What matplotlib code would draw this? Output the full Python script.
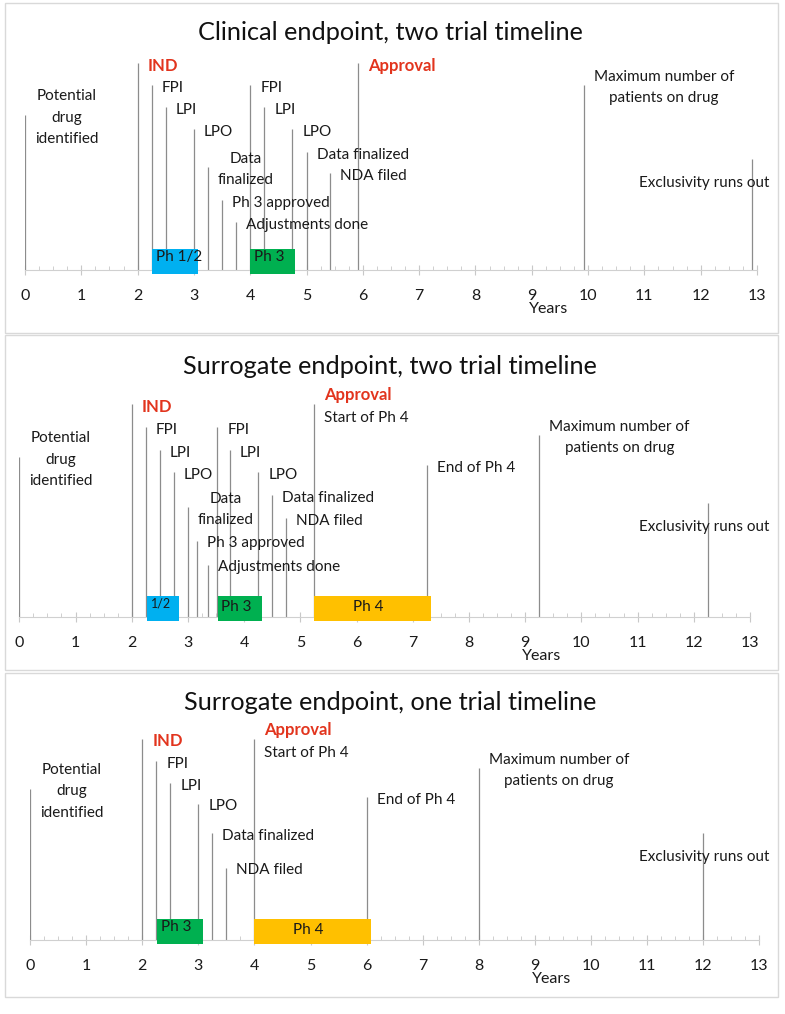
import matplotlib.pyplot as plt
import matplotlib.transforms as mtransforms
from matplotlib.patches import Rectangle

plt.rcParams['font.family'] = ['Lato', 'DejaVu Sans']

W, H = 785, 1014

# ---- panel 1: clinical endpoint, two trials
p1_title = "Clinical endpoint, two trial timeline"
p1_labels = ["Potential\ndrug\nidentified", "IND", "FPI", "LPI", "LPO", "Data\nfinalized",
             "Ph 3 approved", "Adjustments done", "FPI", "LPI", "LPO", "Data finalized",
             "NDA filed", "Approval", "Maximum number of\npatients on drug", "Exclusivity runs out"]
p1_years = [0, 2, 2.25, 2.5, 3, 3.25, 3.5, 3.75, 4, 4.25, 4.75, 5, 5.42, 5.92, 9.92, 12.92]
p1_heights = [155, 207, 185, 163, 141, 103, 70, 48, 185, 163, 141, 118, 97, 207, 185, 111]
p1_bar_names = ["Ph 1/2", "Ph 3"]
p1_bar_start = [2.25, 4.0]
p1_bar_end = [3.08, 4.8]

# ---- panel 2: surrogate endpoint, two trials
p2_title = "Surrogate endpoint, two trial timeline"
p2_labels = ["Potential\ndrug\nidentified", "IND", "FPI", "LPI", "LPO", "Data\nfinalized",
             "Ph 3 approved", "Adjustments done", "FPI", "LPI", "LPO", "Data finalized",
             "NDA filed", "Approval\nStart of Ph 4", "End of Ph 4",
             "Maximum number of\npatients on drug", "Exclusivity runs out"]
p2_years = [0, 2, 2.25, 2.5, 2.75, 3, 3.17, 3.35, 3.52, 3.75, 4.25, 4.5, 4.75, 5.25, 7.25, 9.25, 12.25]
p2_heights = [160, 213, 190, 167, 145, 110, 76, 52, 190, 167, 145, 122, 99, 213, 152, 182, 114]
p2_bar_names = ["1/2", "Ph 3", "Ph 4"]
p2_bar_start = [2.27, 3.54, 5.25]
p2_bar_end = [2.84, 4.32, 7.32]

# ---- panel 3: surrogate endpoint, one trial
p3_title = "Surrogate endpoint, one trial timeline"
p3_labels = ["Potential\ndrug\nidentified", "IND", "FPI", "LPI", "LPO", "Data finalized",
             "NDA filed", "Approval\nStart of Ph 4", "End of Ph 4",
             "Maximum number of\npatients on drug", "Exclusivity runs out"]
p3_years = [0, 2, 2.25, 2.5, 3, 3.25, 3.5, 4, 6, 8, 12]
p3_heights = [151, 201, 179, 157, 136, 107, 72, 201, 143, 172, 107]
p3_bar_names = ["Ph 3", "Ph 4"]
p3_bar_start = [2.27, 4.0]
p3_bar_end = [3.09, 6.07]

years_ticks = list(range(14))

phase_colors = {"Ph 1/2": "#00b0f0", "1/2": "#00b0f0", "Ph 3": "#00b050", "Ph 4": "#ffc000"}
RED = "#e2341d"
TXT = "#1a1a1a"
LINE = "#8c8c8c"

fig = plt.figure(figsize=(W / 100, H / 100), dpi=100)

# panel frames (pixel boxes)
for top, bottom in [(3, 333), (335, 670), (673, 997)]:
    fig.patches.append(Rectangle((5 / W, 1 - bottom / H), 773 / W, (bottom - top) / H,
                                 transform=fig.transFigure, fill=False,
                                 edgecolor="#d9d9d9", lw=1))


def draw_panel(left, right, axis_y, title_y, title, labels, years, heights,
               bar_names, bar_start, bar_end):
    ax = fig.add_axes([left / W, 1 - (axis_y + 10) / H, (right - left) / W, 240 / H])
    ax.set_xlim(0, 13)
    ax.set_ylim(-10, 230)
    for s in ["top", "left", "right"]:
        ax.spines[s].set_visible(False)
    ax.spines["bottom"].set_position(("data", 0))
    ax.spines["bottom"].set_color("#d0d0d0")
    ax.set_yticks([])
    ax.set_xticks(years_ticks)
    ax.set_xticks([t / 4 for t in range(53)], minor=True)
    ax.tick_params(axis="x", which="major", direction="inout", length=7, color="#c8c8c8",
                   labelsize=11.5, labelcolor=TXT, pad=10)
    ax.tick_params(axis="x", which="minor", direction="in", length=3, color="#c8c8c8")

    ax.vlines(years, 0, heights, color=LINE, lw=0.9, zorder=2)

    off = mtransforms.offset_copy(ax.transData, fig, x=10, y=0, units="dots")
    right_edge = mtransforms.blended_transform_factory(fig.transFigure, ax.transData)
    for lab, x, h in zip(labels, years, heights):
        c = h - 2.5
        first = lab.split("\n")[0]
        if lab.startswith("Exclusivity"):
            ax.text(769 / W, h - 24, lab, transform=right_edge, ha="right", va="center",
                    fontsize=11, color=TXT)
        elif first in ("IND", "Approval"):
            rest = lab.split("\n")[1:]
            if rest:
                ax.text(x, c + 12, first, transform=off, ha="left", va="center",
                        fontsize=12, fontweight="bold", color=RED)
                ax.text(x, c - 11.5, "\n".join(rest), transform=off, ha="left",
                        va="center", fontsize=11, color=TXT)
            else:
                ax.text(x, c, first, transform=off, ha="left", va="center",
                        fontsize=12, fontweight="bold", color=RED)
        else:
            ax.text(x, c, lab, transform=off, ha="left", va="center", fontsize=11,
                    color=TXT, multialignment="center", linespacing=1.66)

    for name, s, e in zip(bar_names, bar_start, bar_end):
        ax.barh(8.75, e - s, left=s, height=25.5, color=phase_colors[name], zorder=3)
        if name in ("Ph 1/2", "1/2") or (name == "Ph 3" and len(bar_names) != 3):
            boff = mtransforms.offset_copy(ax.transData, fig, x=4, y=0, units="dots")
            ax.text(s, 13, name, transform=boff, ha="left", va="center",
                    fontsize=9 if name == "1/2" else 11, color=TXT, zorder=4)
        else:
            ax.text((s + e) / 2 - 0.07, 10, name, ha="center", va="center", fontsize=11,
                    color=TXT, zorder=4)

    yt = mtransforms.blended_transform_factory(ax.transAxes, ax.transData)
    ax.text(0.715, -39, "Years", transform=yt, ha="center", va="center", fontsize=11.5,
            color=TXT)
    fig.text(390 / W, 1 - title_y / H, title, ha="center", va="center", fontsize=18.2,
             color="#111111")
    return ax


draw_panel(25, 757, 270, 33, p1_title, p1_labels, p1_years, p1_heights,
           p1_bar_names, p1_bar_start, p1_bar_end)
draw_panel(19.3, 750, 617, 366, p2_title, p2_labels, p2_years, p2_heights,
           p2_bar_names, p2_bar_start, p2_bar_end)
draw_panel(30, 759.3, 940, 702, p3_title, p3_labels, p3_years, p3_heights,
           p3_bar_names, p3_bar_start, p3_bar_end)

fig.savefig("out.png", dpi=100)
